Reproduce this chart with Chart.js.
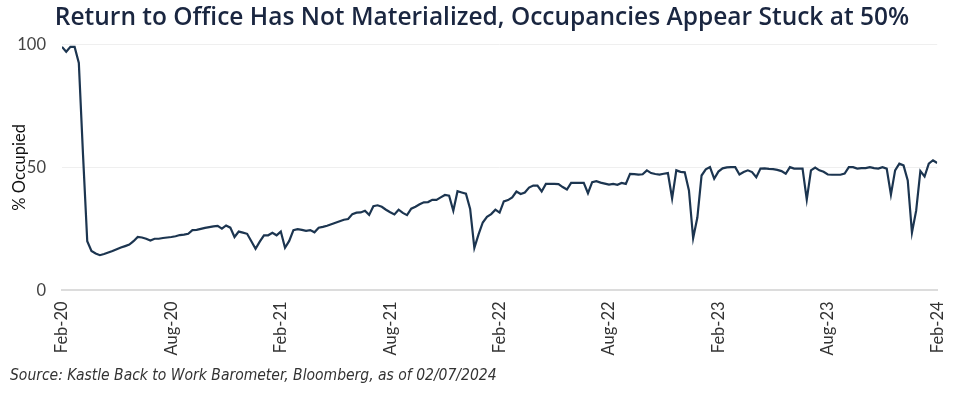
<!DOCTYPE html>
<html lang="en">
<head>
  <meta charset="UTF-8">
  <title>Return to Office</title>
  <script src="https://cdn.jsdelivr.net/npm/chart.js@4.4.1/dist/chart.umd.min.js"></script>
  <style>
    html, body { margin: 0; padding: 0; background: #fff; }
    #wrap { width: 960px; height: 393px; position: relative; }
  </style>
</head>
<body>
  <div id="wrap">
    <canvas id="rto-chart" width="960" height="393"></canvas>
  </div>

  <script>
    // weekly readings, Feb-20 .. Feb-24 (index = week number)
    var tickLabels = ["Feb-20", "Aug-20", "Feb-21", "Aug-21", "Feb-22", "Aug-22", "Feb-23", "Aug-23", "Feb-24"];
    var weeksPerTick = 26;

    var occupancy = [
      99, 97, 99, 99, 92.5, 55, 20, 16, 15, 14.3,
      14.8, 15.4, 16, 16.7, 17.4, 18, 18.6, 20, 21.7, 21.5,
      21, 20.3, 21, 21, 21.3, 21.5, 21.7, 22, 22.5, 22.7,
      23, 24.5, 24.6, 25, 25.4, 25.7, 26, 26.2, 25.1, 26.4,
      25.5, 21.7, 23.9, 23.5, 23, 20, 16.9, 19.8, 22.4, 22.4,
      23.4, 22.4, 23.9, 17.3, 20.1, 24.5, 24.9, 24.6, 24.2, 24.5,
      23.6, 25.5, 25.8, 26.3, 26.9, 27.5, 28.1, 28.7, 29, 31,
      31.6, 31.7, 32.4, 30.7, 34.2, 34.6, 34, 32.8, 31.8, 30.9,
      32.8, 31.5, 30.6, 33.2, 34, 35, 35.8, 35.9, 36.8, 36.8,
      37.8, 38.8, 38.5, 32.4, 40.3, 39.8, 39.3, 33.1, 17.3, 22.8,
      27.6, 29.9, 31, 32.8, 31.6, 36.2, 36.7, 37.8, 40.2, 39.2,
      39.8, 41.8, 42.6, 42.6, 40.2, 43.3, 43.3, 43.3, 43.2, 42,
      41, 43.7, 43.7, 43.7, 43.7, 39.5, 44, 44.4, 43.8, 43.4,
      43, 43.3, 42.9, 43.7, 43.3, 47.4, 47.3, 47.1, 47.2, 48.8,
      47.7, 47.3, 47.1, 47.4, 47.7, 37.4, 48.8, 48.2, 48, 40.6,
      21.2, 29.6, 46.7, 49.2, 50.1, 45.4, 48.3, 49.6, 50, 50.1,
      50.1, 47.1, 48.1, 48.8, 48.1, 46, 49.5, 49.6, 49.4, 49.3,
      49, 48.5, 47.4, 50.1, 49.5, 49.5, 49.5, 36.9, 48.8, 49.9,
      48.8, 48.2, 47.1, 47, 47, 47, 47.5, 50.1, 50.1, 49.5,
      49.7, 49.7, 50.1, 49.7, 49.5, 50.1, 49.5, 38.9, 48.8, 51.5,
      50.8, 44.7, 23.5, 32.4, 48.5, 46.3, 51.5, 52.9, 51.8
    ];

    var weeks = occupancy.map(function (v, i) { return i; });

    var chart = new Chart("rto-chart", {
      type: "line",
      data: {
        labels: weeks,
        datasets: [{
          label: "% Occupied",
          data: occupancy,
          borderColor: "#1c3550",
          borderWidth: 2.2,
          pointRadius: 0,
          tension: 0,
          fill: false
        }]
      },
      options: {
        responsive: false,
        animation: false,
        layout: { padding: { left: 10, right: 6, top: 0, bottom: 4 } },
        plugins: {
          legend: { display: false },
          tooltip: { enabled: false },
          title: {
            display: true,
            text: "Return to Office Has Not Materialized, Occupancies Appear Stuck at 50%",
            color: "#1a2640",
            font: { family: "'Open Sans', sans-serif", size: 24.5, weight: "600" },
            padding: { top: 3, bottom: 12 }
          },
          subtitle: {
            display: true,
            position: "bottom",
            align: "start",
            text: "Source: Kastle Back to Work Barometer, Bloomberg, as of 02/07/2024",
            color: "#333",
            font: { family: "'Liberation Sans Narrow', 'DejaVu Sans Condensed', sans-serif", size: 15.5, style: "italic" },
            padding: { top: 8, bottom: 4 }
          }
        },
        scales: {
          x: {
            type: "linear",
            min: 0,
            max: weeks.length - 1,
            grid: { display: false },
            border: { color: "#dcdcdc", width: 2 },
            ticks: {
              stepSize: weeksPerTick,
              autoSkip: false,
              minRotation: 90,
              maxRotation: 90,
              color: "#333",
              font: { family: "Lato, sans-serif", size: 16.5 },
              callback: function (v) { return tickLabels[Math.round(v / weeksPerTick)]; }
            }
          },
          y: {
            min: 0,
            max: 100,
            grid: { color: "#efefef", drawTicks: false },
            border: { display: false },
            afterFit: function (scale) { scale.width = 52; },
            title: {
              display: true,
              text: "% Occupied",
              color: "#111",
              font: { family: "Lato, sans-serif", size: 16.5 },
              padding: 0
            },
            ticks: {
              stepSize: 50,
              padding: 16,
              color: "#444",
              font: { family: "Lato, sans-serif", size: 16.5 }
            }
          },
          // empty right margin so the title centres like the original
          yRight: {
            position: "right",
            min: 0,
            max: 100,
            grid: { display: false },
            border: { display: false },
            ticks: { display: false },
            afterFit: function (scale) { scale.width = 16; }
          }
        }
      }
    });
  </script>
</body>
</html>
